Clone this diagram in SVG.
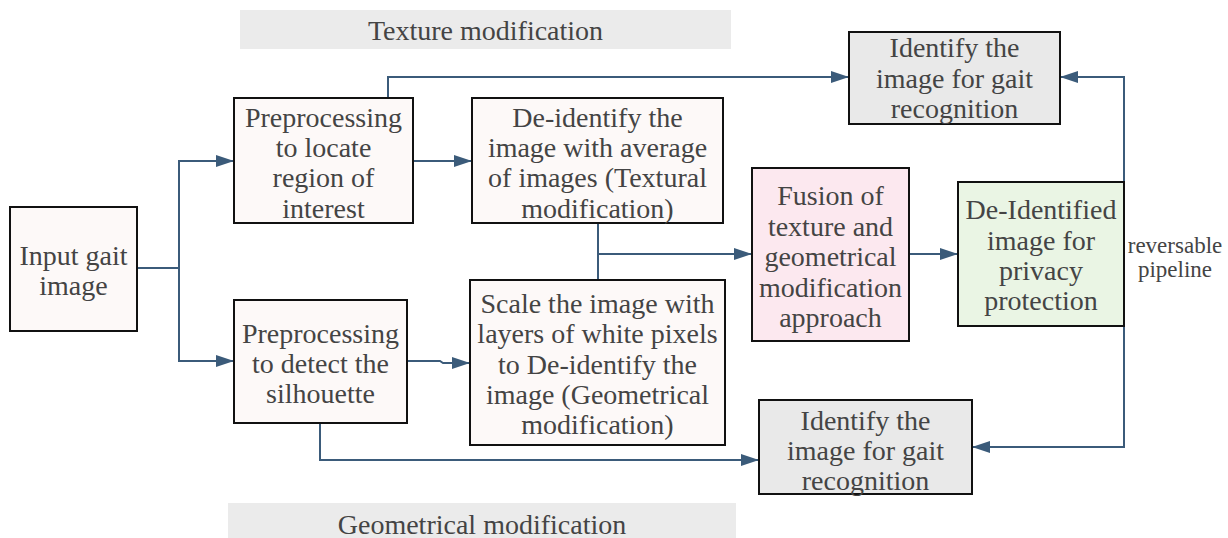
<svg xmlns="http://www.w3.org/2000/svg" width="1228" height="538" viewBox="0 0 1228 538">
  <style>
    .box { stroke: #111; stroke-width: 2; }
    .plain { fill: #fdf9f8; }
    .gray { fill: #e9e9e9; }
    .pink { fill: #fce8ef; }
    .green { fill: #eaf5e4; }
    .band { fill: #ebebeb; }
    text { font-family: "Liberation Serif", "Times New Roman", serif; font-size: 28px; fill: #444; text-anchor: middle; }
    .small { font-size: 23px; }
    .wire { fill: none; stroke: #3b5b7a; stroke-width: 2; }
  </style>
  <defs>
    <marker id="arrow" markerUnits="userSpaceOnUse" markerWidth="20" markerHeight="12" refX="18" refY="6" orient="auto">
      <path d="M0,0 L18,6 L0,12 z" fill="#3b5b7a"/>
    </marker>
  </defs>

  <rect width="1228" height="538" fill="#ffffff"/>

  <!-- section bands -->
  <g id="texture-band">
    <rect class="band" x="240" y="10" width="491" height="39"/>
    <text x="485.5" y="40">Texture modification</text>
  </g>
  <g id="geometry-band">
    <rect class="band" x="228" y="503" width="508" height="40"/>
    <text x="482" y="534">Geometrical modification</text>
  </g>

  <!-- connectors -->
  <g id="connectors">
    <path class="wire" d="M137,268 H179"/>
    <path class="wire" d="M179,268 V161 H234" marker-end="url(#arrow)"/>
    <path class="wire" d="M179,268 V361 H234" marker-end="url(#arrow)"/>
    <path class="wire" d="M388,98 V77 H849" marker-end="url(#arrow)"/>
    <path class="wire" d="M413,161 H472" marker-end="url(#arrow)"/>
    <path class="wire" d="M407,361 H440 L443,363 H470" marker-end="url(#arrow)"/>
    <path class="wire" d="M320,423 V460 H759" marker-end="url(#arrow)"/>
    <path class="wire" d="M598,223 V280"/>
    <path class="wire" d="M598,254 H752" marker-end="url(#arrow)"/>
    <path class="wire" d="M909,254 H958" marker-end="url(#arrow)"/>
    <path class="wire" d="M1124,182 V77 H1060" marker-end="url(#arrow)"/>
    <path class="wire" d="M1124,326 V447 H972" marker-end="url(#arrow)"/>
  </g>

  <g id="input">
    <rect class="box plain" x="10" y="207" width="127" height="124"/>
    <text x="73.5" y="265">Input gait</text>
    <text x="73.5" y="295">image</text>
  </g>

  <g id="locate-roi">
    <rect class="box plain" x="234" y="98" width="179" height="125"/>
    <text x="323.5" y="127">Preprocessing</text>
    <text x="323.5" y="157">to locate</text>
    <text x="323.5" y="187">region of</text>
    <text x="323.5" y="218">interest</text>
  </g>

  <g id="texture-deid">
    <rect class="box plain" x="472" y="98" width="251" height="125"/>
    <text x="597.5" y="127">De-identify the</text>
    <text x="597.5" y="157">image with average</text>
    <text x="597.5" y="187">of images (Textural</text>
    <text x="597.5" y="218">modification)</text>
  </g>

  <g id="detect-silhouette">
    <rect class="box plain" x="234" y="300" width="173" height="123"/>
    <text x="320.5" y="343">Preprocessing</text>
    <text x="320.5" y="373">to detect the</text>
    <text x="320.5" y="403">silhouette</text>
  </g>

  <g id="geometry-deid">
    <rect class="box plain" x="470" y="280" width="255" height="165"/>
    <text x="597.5" y="313">Scale the image with</text>
    <text x="597.5" y="343">layers of white pixels</text>
    <text x="597.5" y="374">to De-identify the</text>
    <text x="597.5" y="404">image (Geometrical</text>
    <text x="597.5" y="434">modification)</text>
  </g>

  <g id="fusion">
    <rect class="box pink" x="752" y="168" width="157" height="173"/>
    <text x="830.5" y="205">Fusion of</text>
    <text x="830.5" y="236">texture and</text>
    <text x="830.5" y="266">geometrical</text>
    <text x="830.5" y="297">modification</text>
    <text x="830.5" y="327">approach</text>
  </g>

  <g id="deidentified">
    <rect class="box green" x="958" y="182" width="166" height="144"/>
    <text x="1041" y="219">De-Identified</text>
    <text x="1041" y="250">image for</text>
    <text x="1041" y="280">privacy</text>
    <text x="1041" y="310">protection</text>
  </g>

  <g id="identify-top">
    <rect class="box gray" x="849" y="32" width="211" height="92"/>
    <text x="954.5" y="57">Identify the</text>
    <text x="954.5" y="88">image for gait</text>
    <text x="954.5" y="118">recognition</text>
  </g>

  <g id="identify-bottom">
    <rect class="box gray" x="759" y="400" width="213" height="94"/>
    <text x="865.5" y="430">Identify the</text>
    <text x="865.5" y="460">image for gait</text>
    <text x="865.5" y="490">recognition</text>
  </g>

  <g id="pipeline-label">
    <text class="small" x="1175" y="253">reversable</text>
    <text class="small" x="1175" y="277">pipeline</text>
  </g>
</svg>
